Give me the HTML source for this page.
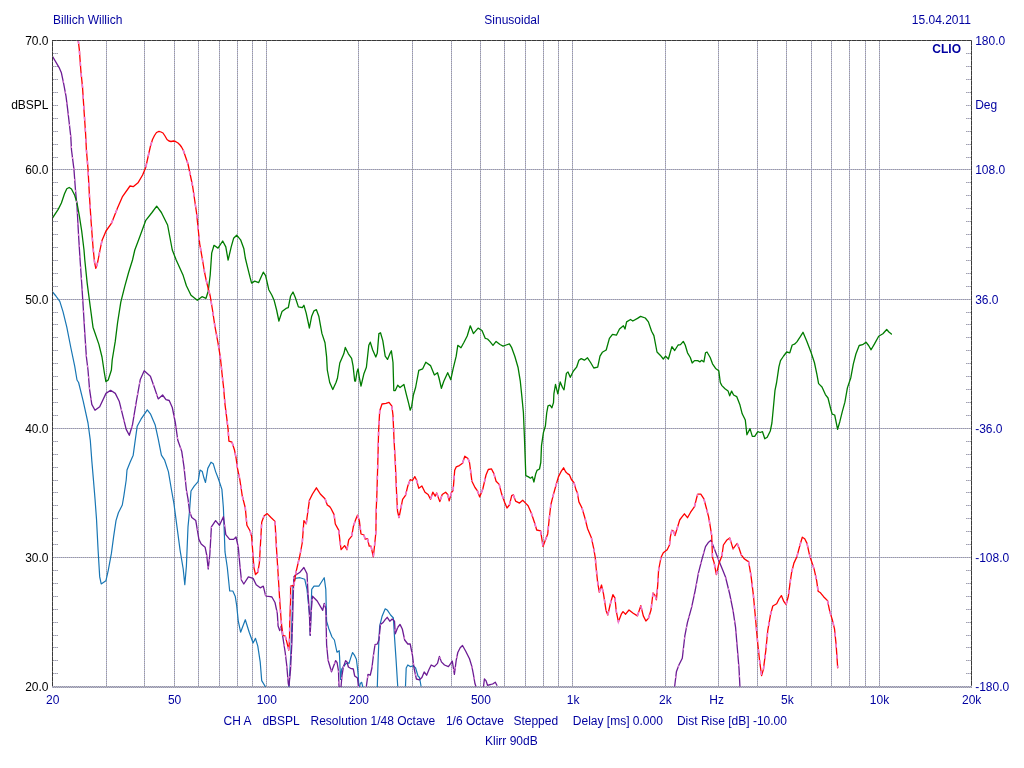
<!DOCTYPE html><html><head><meta charset="utf-8"><style>html,body{margin:0;padding:0;background:#fff;}svg{display:block}</style></head><body>
<svg width="1024" height="768" viewBox="0 0 1024 768">
<rect width="1024" height="768" fill="#fff"/>
<g shape-rendering="crispEdges" stroke-width="1" fill="none">
<path d="M106.5 41V686 M144.5 41V686 M174.5 41V686 M198.5 41V686 M219.5 41V686 M237.5 41V686 M252.5 41V686 M266.5 41V686 M358.5 41V686 M412.5 41V686 M451.5 41V686 M480.5 41V686 M504.5 41V686 M525.5 41V686 M543.5 41V686 M558.5 41V686 M572.5 41V686 M665.5 41V686 M718.5 41V686 M757.5 41V686 M786.5 41V686 M811.5 41V686 M831.5 41V686 M849.5 41V686 M865.5 41V686 M879.5 41V686 M53 169.5H971 M53 299.5H971 M53 428.5H971 M53 557.5H971" stroke="#b4b4d8"/>
<path d="M106.5 41V686 M144.5 41V686 M174.5 41V686 M198.5 41V686 M219.5 41V686 M237.5 41V686 M252.5 41V686 M266.5 41V686 M358.5 41V686 M412.5 41V686 M451.5 41V686 M480.5 41V686 M504.5 41V686 M525.5 41V686 M543.5 41V686 M558.5 41V686 M572.5 41V686 M665.5 41V686 M718.5 41V686 M757.5 41V686 M786.5 41V686 M811.5 41V686 M831.5 41V686 M849.5 41V686 M865.5 41V686 M879.5 41V686 M53 169.5H971 M53 299.5H971 M53 428.5H971 M53 557.5H971" stroke="#9c9c9c" stroke-dasharray="1 1"/>
<path d="M52 686.5H972M52 687.5H972" stroke="#b4b4d8"/><path d="M52 686.5H972" stroke="#9c9c9c" stroke-dasharray="1 1"/><path d="M53 687.5H972" stroke="#9c9c9c" stroke-dasharray="1 1"/>
<path d="M53 53.5H58 M966 53.5H971 M53 66.5H58 M966 66.5H971 M53 79.5H58 M966 79.5H971 M53 92.5H58 M966 92.5H971 M53 105.5H58 M966 105.5H971 M53 118.5H58 M966 118.5H971 M53 131.5H58 M966 131.5H971 M53 144.5H58 M966 144.5H971 M53 157.5H58 M966 157.5H971 M53 182.5H58 M966 182.5H971 M53 195.5H58 M966 195.5H971 M53 208.5H58 M966 208.5H971 M53 221.5H58 M966 221.5H971 M53 234.5H58 M966 234.5H971 M53 247.5H58 M966 247.5H971 M53 260.5H58 M966 260.5H971 M53 273.5H58 M966 273.5H971 M53 286.5H58 M966 286.5H971 M53 312.5H58 M966 312.5H971 M53 324.5H58 M966 324.5H971 M53 337.5H58 M966 337.5H971 M53 350.5H58 M966 350.5H971 M53 363.5H58 M966 363.5H971 M53 376.5H58 M966 376.5H971 M53 389.5H58 M966 389.5H971 M53 402.5H58 M966 402.5H971 M53 415.5H58 M966 415.5H971 M53 441.5H58 M966 441.5H971 M53 454.5H58 M966 454.5H971 M53 467.5H58 M966 467.5H971 M53 480.5H58 M966 480.5H971 M53 492.5H58 M966 492.5H971 M53 505.5H58 M966 505.5H971 M53 518.5H58 M966 518.5H971 M53 531.5H58 M966 531.5H971 M53 544.5H58 M966 544.5H971 M53 570.5H58 M966 570.5H971 M53 583.5H58 M966 583.5H971 M53 596.5H58 M966 596.5H971 M53 609.5H58 M966 609.5H971 M53 622.5H58 M966 622.5H971 M53 635.5H58 M966 635.5H971 M53 647.5H58 M966 647.5H971 M53 660.5H58 M966 660.5H971 M53 673.5H58 M966 673.5H971" stroke="#c0c0e0"/>
<path d="M53 53.5H58 M966 53.5H971 M53 66.5H58 M966 66.5H971 M53 79.5H58 M966 79.5H971 M53 92.5H58 M966 92.5H971 M53 105.5H58 M966 105.5H971 M53 118.5H58 M966 118.5H971 M53 131.5H58 M966 131.5H971 M53 144.5H58 M966 144.5H971 M53 157.5H58 M966 157.5H971 M53 182.5H58 M966 182.5H971 M53 195.5H58 M966 195.5H971 M53 208.5H58 M966 208.5H971 M53 221.5H58 M966 221.5H971 M53 234.5H58 M966 234.5H971 M53 247.5H58 M966 247.5H971 M53 260.5H58 M966 260.5H971 M53 273.5H58 M966 273.5H971 M53 286.5H58 M966 286.5H971 M53 312.5H58 M966 312.5H971 M53 324.5H58 M966 324.5H971 M53 337.5H58 M966 337.5H971 M53 350.5H58 M966 350.5H971 M53 363.5H58 M966 363.5H971 M53 376.5H58 M966 376.5H971 M53 389.5H58 M966 389.5H971 M53 402.5H58 M966 402.5H971 M53 415.5H58 M966 415.5H971 M53 441.5H58 M966 441.5H971 M53 454.5H58 M966 454.5H971 M53 467.5H58 M966 467.5H971 M53 480.5H58 M966 480.5H971 M53 492.5H58 M966 492.5H971 M53 505.5H58 M966 505.5H971 M53 518.5H58 M966 518.5H971 M53 531.5H58 M966 531.5H971 M53 544.5H58 M966 544.5H971 M53 570.5H58 M966 570.5H971 M53 583.5H58 M966 583.5H971 M53 596.5H58 M966 596.5H971 M53 609.5H58 M966 609.5H971 M53 622.5H58 M966 622.5H971 M53 635.5H58 M966 635.5H971 M53 647.5H58 M966 647.5H971 M53 660.5H58 M966 660.5H971 M53 673.5H58 M966 673.5H971" stroke="#a4a4a4" stroke-dasharray="1 1"/>
<path d="M52.5 686V40.5H971.5V686" stroke="#6a6a6a"/><path d="M52.5 686V40.5H971.5V686" stroke="#383838" stroke-dasharray="4 1"/>
</g>
<g clip-path="url(#c)">
<defs><clipPath id="c"><rect x="53" y="41" width="918" height="646"/></clipPath></defs>
<polyline points="52.0,291.2 55.9,296.0 59.8,301.4 63.0,311.6 66.8,327.2 70.8,347.5 74.7,366.2 77.0,380.0 78.6,382.5 83.2,401.2 88.0,423.0 90.3,440.3 91.8,460.6 93.4,479.4 95.0,498.8 96.5,519.0 98.1,550.3 99.7,576.9 101.2,583.9 105.9,580.8 108.2,570.6 111.4,553.4 113.7,536.2 116.0,520.6 118.4,512.8 122.3,505.0 123.9,495.6 126.2,480.0 127.0,470.0 130.1,462.2 133.2,455.2 134.8,443.4 137.2,426.2 141.0,419.2 147.3,409.8 150.4,413.8 155.1,424.7 158.2,438.8 161.4,455.2 164.5,459.8 168.4,471.6 171.5,490.0 173.9,503.4 177.0,526.9 180.1,550.3 183.2,569.0 184.8,584.7 186.4,566.0 188.0,526.9 189.5,511.2 191.0,491.0 194.2,486.2 198.1,481.6 200.0,470.0 202.3,471.6 203.9,477.8 205.5,482.5 207.8,468.4 211.0,462.2 213.3,463.8 215.6,471.6 218.0,477.8 218.8,480.0 221.9,489.4 223.4,508.0 225.0,551.9 227.3,567.5 229.7,591.0 232.8,591.0 235.2,596.2 236.7,605.6 238.3,621.2 240.6,632.2 245.3,619.7 249.2,632.2 253.1,643.0 255.5,638.4 257.8,646.2 260.2,661.9 261.7,680.6 265.6,687.0" fill="none" stroke="#1876b4" stroke-width="1.2" stroke-linejoin="round" stroke-linecap="round"/>
<polyline points="289.0,687.0 291.0,650.0 293.0,586.2 295.3,578.4 300.0,577.7 304.7,579.2 307.0,589.4 309.4,613.4 310.2,635.3 311.0,613.4 311.7,589.4 314.0,586.2 318.8,586.2 324.2,577.7 325.8,589.4 326.6,621.2 328.9,629.0 332.0,637.0 334.4,640.0 336.7,651.0 337.1,652.2 339.2,650.7 339.6,657.0 340.0,667.6 340.6,679.5 341.7,669.0 343.1,667.0 345.6,664.0 347.7,662.7 349.0,663.4 351.2,656.4 352.6,652.5 354.7,655.7 356.4,659.2 357.5,668.3 358.2,675.3 358.9,687.0" fill="none" stroke="#1876b4" stroke-width="1.2" stroke-linejoin="round" stroke-linecap="round"/>
<polyline points="359.5,687.0 360.3,683.5 361.7,682.3 362.8,687.0" fill="none" stroke="#1876b4" stroke-width="1.2" stroke-linejoin="round" stroke-linecap="round"/>
<polyline points="377.3,687.0 378.1,660.3 378.9,640.0 379.7,626.0 382.0,616.6 385.2,608.8 387.5,610.3 390.6,615.0 393.4,618.0 394.5,636.9 396.1,660.3 397.7,686.0" fill="none" stroke="#1876b4" stroke-width="1.2" stroke-linejoin="round" stroke-linecap="round"/>
<polyline points="405.5,686.0 406.2,668.0 407.8,665.0 410.2,666.6 413.3,665.8 415.6,668.0 418.0,676.0 419.5,677.5 421.0,686.0" fill="none" stroke="#1876b4" stroke-width="1.2" stroke-linejoin="round" stroke-linecap="round"/>
<polyline points="52.0,55.6 59.0,67.3 61.4,72.8 63.7,83.8 66.0,96.2 67.6,108.8 69.2,122.8 70.8,136.9 71.5,150.0 73.9,168.8 75.4,189.0 77.0,206.2 78.6,236.0 80.1,260.0 81.7,283.4 83.2,307.0 84.8,333.4 86.4,357.0 88.0,370.0 89.5,388.8 91.8,404.4 95.0,410.3 99.7,406.7 106.0,393.4 110.6,390.3 115.3,393.4 119.2,401.2 123.1,416.9 126.2,429.4 129.3,435.3 132.5,424.7 136.4,401.2 140.3,379.4 144.2,370.8 150.4,376.2 154.3,387.2 158.2,398.9 162.6,395.0 166.0,399.7 169.2,400.5 172.3,407.5 175.4,423.0 177.8,440.3 181.7,451.2 184.0,466.9 186.4,490.0 188.0,498.8 189.5,511.2 191.8,517.5 195.8,520.6 198.9,539.4 201.2,544.0 205.1,547.2 206.7,555.0 208.2,569.0 209.8,555.0 211.4,526.9 215.6,520.6 219.5,525.3 223.4,516.7 225.8,534.7 229.7,539.4 233.6,539.4 236.0,537.0 238.3,547.2 239.8,564.4 241.4,580.0 243.8,584.0 248.4,576.9 253.1,578.4 256.2,584.7 260.2,587.8 263.3,586.2 265.6,595.6 266.4,596.2 270.3,596.6 271.9,597.0 275.0,602.5 277.3,613.4 278.1,626.0 279.7,630.6 281.2,626.0 282.8,636.9 285.2,652.5 286.7,665.0 288.3,683.8 289.0,686.0 290.5,670.0 292.0,640.0 293.8,576.9 295.3,575.3 300.0,572.2 303.9,567.5 307.0,573.8 307.8,589.4 309.4,613.4 310.2,635.3 311.0,613.4 312.5,596.2 317.2,601.0 322.7,610.3 324.2,603.3 325.8,608.8 326.6,644.7 328.1,660.3 331.5,671.8 335.7,660.6 337.1,662.7 338.5,671.0 338.9,684.5 339.2,687.0" fill="none" stroke="#6c1c94" stroke-width="1.3" stroke-linejoin="round" stroke-linecap="round"/>
<polyline points="341.0,687.0 342.0,675.3 343.4,667.0 345.6,660.6 347.0,662.0 348.4,667.0 350.5,668.3 353.3,669.0 354.7,676.0 357.5,678.1 358.5,687.0" fill="none" stroke="#6c1c94" stroke-width="1.3" stroke-linejoin="round" stroke-linecap="round"/>
<polyline points="366.4,686.0 368.0,674.4 370.3,675.2 371.9,668.0 373.4,655.6 375.0,644.7 377.3,644.0 378.9,640.0 380.5,624.4 382.8,622.8 385.2,619.7 387.2,617.3 389.8,621.2 392.2,619.0 394.5,621.2 395.3,633.8 397.7,627.5 400.0,624.4 402.3,629.0 404.7,640.0 407.8,644.0 410.2,644.0 412.5,655.6 414.0,668.0 416.4,679.0 419.5,679.8 421.9,677.5 424.2,672.0 426.6,675.2 428.9,669.7 431.2,665.0 434.4,666.6 437.5,663.4 439.4,656.4 441.4,661.9 444.5,665.0 448.4,666.6 450.8,663.4 452.3,661.1 454.4,674.4 456.2,660.3 457.8,652.5 460.2,647.8 462.5,645.5 465.6,651.0 469.5,658.8 471.9,666.6 473.4,674.4 475.0,683.8 475.8,686.0" fill="none" stroke="#6c1c94" stroke-width="1.3" stroke-linejoin="round" stroke-linecap="round"/>
<polyline points="483.6,686.0 484.4,679.0 486.0,680.6 487.5,685.3 490.6,684.5 493.0,683.8 495.3,682.2 496.9,685.3" fill="none" stroke="#6c1c94" stroke-width="1.3" stroke-linejoin="round" stroke-linecap="round"/>
<polyline points="674.7,686.0 676.4,671.8 678.9,665.0 682.3,658.2 684.8,636.2 687.4,622.6 691.6,607.4 695.3,590.0 698.4,573.1 701.6,560.6 705.5,546.6 708.6,542.2 711.0,540.3 714.0,548.0 718.8,560.6 722.7,570.0 725.5,577.0 729.7,594.0 733.1,610.8 735.6,627.7 737.3,648.0 739.0,668.4 739.9,686.0" fill="none" stroke="#6c1c94" stroke-width="1.3" stroke-linejoin="round" stroke-linecap="round"/>
<polyline points="52.0,218.8 58.2,209.4 61.4,203.0 64.5,193.8 66.8,188.8 69.2,187.5 71.5,189.0 74.7,195.3 77.0,203.0 79.3,215.6 81.7,231.0 84.0,250.0 84.8,260.0 87.2,283.4 90.3,307.0 93.0,327.2 98.9,344.4 102.0,357.0 104.3,372.5 105.9,381.7 108.2,380.0 111.4,370.0 112.2,360.0 115.3,341.2 117.6,322.5 120.8,302.2 124.7,286.6 128.6,272.5 132.5,260.0 134.8,250.0 139.5,237.5 145.8,220.3 152.0,212.5 156.7,206.2 161.4,212.5 167.6,225.0 172.3,250.0 176.2,260.0 183.2,275.6 186.4,285.8 191.0,295.2 197.3,300.3 202.0,296.7 206.0,298.3 208.2,291.2 210.2,275.0 211.7,253.1 214.0,245.3 218.0,248.1 222.7,241.0 225.8,246.9 228.1,260.2 231.2,246.9 233.6,238.3 236.7,235.2 240.6,239.8 243.8,248.4 245.3,258.0 247.7,267.8 250.0,277.2 251.6,283.1 254.7,281.1 258.6,282.7 261.0,277.2 263.3,272.2 265.6,275.6 268.8,289.7 271.9,295.2 274.2,300.6 276.6,310.0 278.9,321.0 282.0,311.6 286.0,308.4 288.3,307.7 290.6,296.0 293.0,292.0 295.3,297.5 298.4,306.9 302.3,307.7 303.9,305.3 306.2,313.1 309.4,328.0 311.7,316.2 314.0,310.8 316.4,309.7 318.8,316.2 321.9,333.4 325.0,342.8 326.6,356.9 327.3,370.0 329.7,382.5 332.8,389.5 336.0,382.5 337.5,378.0 339.8,363.0 343.8,353.8 345.3,347.5 348.4,353.8 351.6,358.4 353.1,366.2 354.7,381.0 355.5,381.2 357.0,372.0 358.1,368.8 359.4,378.0 361.0,386.0 364.0,373.4 366.4,367.2 368.8,345.3 370.3,342.2 372.7,350.0 375.8,357.0 377.3,353.1 378.9,333.6 380.5,332.8 382.8,340.6 385.2,356.2 387.5,359.4 389.8,353.9 391.4,350.8 393.0,362.5 393.8,390.6 395.3,390.6 397.7,385.2 400.0,387.5 403.9,384.4 406.2,393.8 408.6,403.1 410.2,410.2 411.7,406.2 413.3,395.3 415.6,387.5 418.8,370.3 422.7,368.8 425.8,362.2 430.5,365.6 434.4,375.0 437.5,372.7 439.0,378.0 441.4,388.3 443.8,381.2 447.7,372.7 450.8,379.7 453.1,368.8 456.2,356.2 457.8,345.3 461.0,347.7 464.0,342.2 467.2,336.0 470.3,325.8 473.4,333.6 478.1,328.1 482.0,330.5 485.2,338.3 487.5,339.0 489.8,341.4 493.0,345.3 496.1,341.4 500.0,344.5 503.1,346.1 506.2,345.0 509.4,343.8 511.7,347.7 514.8,356.2 518.0,367.2 520.3,381.2 521.9,396.9 523.4,412.5 524.5,439.0 525.2,458.6 525.8,475.6 528.5,476.9 530.4,478.2 532.4,476.9 533.9,482.0 535.6,474.3 537.0,470.4 539.5,469.0 540.8,462.5 541.5,445.6 543.4,432.6 545.4,426.0 546.7,413.0 548.0,405.9 550.0,405.2 551.9,407.8 553.5,402.6 553.9,393.8 555.5,384.4 557.8,393.8 560.2,382.0 562.5,387.5 564.0,389.8 566.4,373.4 568.0,371.9 570.3,377.3 573.4,371.0 576.6,367.2 578.9,360.2 581.2,358.6 584.4,360.2 587.5,357.8 590.6,362.5 593.8,368.0 597.7,367.2 600.0,356.2 602.3,352.3 606.2,350.0 609.4,338.3 612.5,334.4 616.4,335.2 619.5,329.0 623.4,325.8 625.0,329.0 626.6,321.9 630.5,319.5 632.8,321.0 637.5,318.4 640.6,316.4 645.3,318.0 648.4,321.9 651.6,331.2 653.9,335.6 657.0,352.0 660.2,355.2 663.3,359.0 665.6,356.2 668.4,359.0 671.9,346.6 674.7,350.5 678.1,345.0 680.5,344.7 683.3,341.4 685.2,345.0 687.5,352.8 690.3,357.5 692.2,363.0 694.5,360.6 697.7,360.6 700.0,361.9 701.6,360.3 703.9,361.9 705.5,352.8 707.0,352.0 710.2,357.5 712.5,363.8 715.6,368.4 718.8,370.8 720.3,382.5 721.9,385.6 725.0,388.8 728.1,391.1 729.7,395.8 731.6,391.1 733.6,395.0 736.7,396.6 739.8,404.4 742.2,413.8 745.3,420.0 746.9,434.8 750.0,428.6 752.3,436.4 754.7,436.4 757.8,431.7 760.2,432.5 762.5,431.7 764.8,438.8 767.2,437.2 770.3,431.0 771.9,423.0 773.4,407.5 775.0,390.3 776.6,382.5 778.9,366.9 780.5,360.6 783.6,356.0 786.7,352.0 789.8,352.8 792.2,345.0 794.5,344.2 796.9,341.9 800.0,337.2 803.0,332.3 806.8,341.3 811.0,352.3 814.4,362.5 816.9,374.3 818.6,383.6 822.0,387.0 825.4,394.6 828.0,398.0 830.5,408.2 832.2,414.1 834.7,415.0 836.4,423.4 837.6,429.3 839.8,421.7 842.3,411.6 844.9,402.2 847.4,387.9 850.8,377.7 853.3,364.2 855.9,354.0 859.2,345.5 862.6,344.7 866.0,342.2 868.6,345.5 871.1,349.8 874.5,343.9 878.7,336.2 882.9,333.7 886.7,329.5 888.9,332.0 891.4,334.0" fill="none" stroke="#007c00" stroke-width="1.3" stroke-linejoin="round" stroke-linecap="round"/>
<polyline points="78.2,40.0 79.3,49.4 80.9,71.2 82.5,86.9 84.0,110.3 85.6,133.8 86.4,150.0 88.0,168.8 89.5,196.9 91.0,220.3 93.0,246.9 94.5,262.0 95.8,268.3 97.0,265.0 98.0,260.5 100.0,250.0 102.0,240.6 106.0,231.0 111.4,223.4 117.6,207.8 122.3,196.9 130.0,186.0 133.2,186.7 138.0,182.8 142.6,175.0 145.8,167.2 148.9,153.0 150.5,146.0 152.5,139.5 154.5,135.5 156.5,132.5 159.0,131.4 161.0,132.0 163.0,133.0 165.0,136.0 167.0,139.5 169.0,141.0 171.0,141.5 173.5,141.0 175.5,141.5 178.0,143.0 180.0,145.0 181.5,147.0 183.2,150.0 188.0,164.0 192.6,186.0 196.5,212.5 199.7,243.8 202.0,257.0 204.5,272.0 206.2,280.3 208.6,290.0 210.2,296.0 212.5,310.0 214.8,325.6 218.0,342.8 220.3,356.9 222.7,380.0 223.4,385.6 225.0,404.4 226.6,416.9 228.1,429.4 228.9,441.1 232.0,442.2 234.4,449.7 236.0,457.5 237.5,468.4 239.8,479.4 241.4,490.0 242.2,495.6 245.3,508.0 246.9,525.3 250.0,530.8 251.6,536.2 252.3,545.6 253.9,567.5 255.5,574.5 257.8,572.2 259.4,562.8 261.0,534.7 261.7,522.2 264.0,516.0 267.2,513.6 271.0,517.5 275.0,521.4 276.6,550.3 278.1,573.8 279.7,600.0 281.2,621.2 282.8,635.3 285.2,636.0 286.7,641.6 288.8,650.0 289.5,640.0 289.8,620.0 290.6,600.0 290.6,586.2 293.8,585.5 296.0,572.2 300.0,555.0 302.3,542.5 303.9,520.6 306.2,523.8 309.4,500.3 312.5,494.0 316.4,487.8 320.3,494.0 325.0,498.8 327.3,505.0 329.7,506.6 331.0,508.5 334.1,514.6 335.3,524.0 338.8,530.4 340.0,541.5 341.1,549.7 344.6,545.6 347.0,549.7 348.7,539.8 351.7,536.2 353.4,526.3 355.8,519.3 357.5,515.2 359.3,520.4 361.0,534.0 364.0,535.0 365.1,539.2 367.5,538.6 369.2,546.2 371.0,546.2 373.3,556.8 374.5,546.2 375.9,532.2 376.2,510.0 376.9,493.8 377.8,462.5 378.6,431.2 379.7,411.0 382.0,404.0 386.0,403.4 389.0,402.3 391.9,406.2 393.0,415.6 394.0,439.0 395.3,462.5 396.6,493.8 397.5,511.0 399.0,517.5 400.8,508.7 402.6,499.4 405.5,495.3 407.8,486.0 410.2,479.7 412.5,480.5 414.8,476.6 416.4,479.7 418.8,488.3 421.9,486.0 425.0,492.2 428.1,494.5 430.5,499.2 432.8,492.2 435.2,496.1 436.7,493.0 439.8,501.6 442.2,494.5 445.6,492.2 447.7,494.5 449.2,500.8 451.6,492.2 453.1,490.6 454.7,470.3 456.2,466.9 459.4,465.6 462.5,463.3 464.8,456.2 468.0,458.6 469.5,462.5 471.9,481.2 475.0,487.5 477.3,490.6 479.7,496.9 482.8,489.0 486.0,475.0 488.3,469.5 491.4,468.8 493.8,473.4 496.1,481.2 499.2,484.4 501.6,493.8 504.7,502.5 507.0,508.0 509.4,505.0 511.7,495.6 513.3,494.8 515.6,501.1 519.5,503.1 522.7,500.3 525.8,503.4 528.1,505.8 531.2,512.8 534.4,522.2 536.7,530.0 540.6,530.8 542.2,541.0 543.0,546.4 545.3,540.2 547.7,533.9 549.2,519.0 550.8,505.0 553.1,495.6 555.8,486.0 558.4,476.9 561.0,471.7 563.6,467.8 565.6,471.7 567.5,473.6 569.5,474.9 571.4,479.5 574.0,482.7 576.0,489.9 577.3,492.5 578.9,501.9 582.0,508.0 585.2,519.0 587.5,528.4 591.4,537.8 593.8,548.8 595.3,558.0 596.1,567.5 597.6,582.0 599.3,592.2 601.5,585.0 603.5,593.9 606.1,610.8 607.8,615.0 610.3,604.0 612.9,594.7 615.0,598.1 616.2,610.8 618.4,621.8 621.3,614.2 623.0,611.6 625.6,614.2 629.0,610.0 633.2,613.3 637.4,615.9 640.8,605.7 643.3,615.9 645.9,621.0 648.4,618.4 651.0,610.0 653.0,593.0 655.2,595.6 656.4,599.8 657.7,585.4 658.6,570.0 661.0,557.5 663.3,552.8 667.2,549.7 669.5,545.0 670.3,537.2 671.9,530.2 673.4,531.0 675.0,535.6 676.6,530.2 679.7,520.0 682.0,516.9 684.4,513.8 687.5,517.7 690.6,512.2 694.5,506.7 696.6,498.0 697.7,494.2 700.8,494.2 703.9,498.9 706.2,507.5 708.6,516.9 710.2,526.2 711.7,535.6 712.5,557.5 714.0,562.2 716.4,574.7 718.8,563.8 721.9,556.0 723.4,545.0 726.6,540.3 729.7,538.0 731.2,542.6 733.1,549.0 735.2,545.8 737.2,543.4 739.0,548.0 741.4,555.2 744.5,559.0 746.9,560.6 748.6,561.6 751.0,575.6 753.3,594.4 755.6,619.4 757.2,638.0 759.5,660.0 761.6,675.6 763.4,669.4 765.8,650.6 767.8,630.3 770.5,614.7 772.8,606.0 776.7,603.8 779.0,599.0 781.4,595.6 783.8,601.4 786.1,604.5 788.4,596.0 790.0,583.4 791.6,572.5 793.9,563.1 796.9,556.7 800.0,545.0 802.3,537.2 804.7,538.8 807.0,543.4 809.4,554.4 811.1,560.0 814.2,569.4 816.6,580.3 818.1,591.2 820.5,592.8 823.6,596.7 827.5,600.6 829.8,611.6 832.2,619.4 834.5,628.8 836.1,644.4 837.7,667.8" fill="none" stroke="#ff0000" stroke-width="1.3" stroke-linejoin="round" stroke-linecap="round"/>
<polyline points="78.2,40.0 79.3,49.4 80.9,71.2 82.5,86.9 84.0,110.3 85.6,133.8 86.4,150.0 88.0,168.8 89.5,196.9 91.0,220.3 93.0,246.9 94.5,262.0 95.8,268.3 97.0,265.0 98.0,260.5 100.0,250.0 102.0,240.6" fill="none" stroke="#ec7ad8" stroke-width="1.6" stroke-dasharray="4 7"/>
<polyline points="111.4,223.4 117.6,207.8" fill="none" stroke="#ec7ad8" stroke-width="1.6" stroke-dasharray="4 7"/>
<polyline points="145.8,167.2 148.9,153.0 150.5,146.0 152.5,139.5" fill="none" stroke="#ec7ad8" stroke-width="1.6" stroke-dasharray="4 7"/>
<polyline points="183.2,150.0 188.0,164.0 192.6,186.0 196.5,212.5 199.7,243.8 202.0,257.0 204.5,272.0 206.2,280.3 208.6,290.0 210.2,296.0 212.5,310.0 214.8,325.6 218.0,342.8 220.3,356.9 222.7,380.0 223.4,385.6 225.0,404.4 226.6,416.9 228.1,429.4 228.9,441.1" fill="none" stroke="#ec7ad8" stroke-width="1.6" stroke-dasharray="4 7"/>
<polyline points="232.0,442.2 234.4,449.7 236.0,457.5 237.5,468.4 239.8,479.4 241.4,490.0 242.2,495.6 245.3,508.0 246.9,525.3" fill="none" stroke="#ec7ad8" stroke-width="1.6" stroke-dasharray="4 7"/>
<polyline points="250.0,530.8 251.6,536.2 252.3,545.6 253.9,567.5 255.5,574.5" fill="none" stroke="#ec7ad8" stroke-width="1.6" stroke-dasharray="4 7"/>
<polyline points="257.8,572.2 259.4,562.8 261.0,534.7 261.7,522.2 264.0,516.0" fill="none" stroke="#ec7ad8" stroke-width="1.6" stroke-dasharray="4 7"/>
<polyline points="275.0,521.4 276.6,550.3 278.1,573.8 279.7,600.0 281.2,621.2 282.8,635.3" fill="none" stroke="#ec7ad8" stroke-width="1.6" stroke-dasharray="4 7"/>
<polyline points="285.2,636.0 286.7,641.6 288.8,650.0 289.5,640.0 289.8,620.0 290.6,600.0 290.6,586.2" fill="none" stroke="#ec7ad8" stroke-width="1.6" stroke-dasharray="4 7"/>
<polyline points="293.8,585.5 296.0,572.2 300.0,555.0 302.3,542.5 303.9,520.6" fill="none" stroke="#ec7ad8" stroke-width="1.6" stroke-dasharray="4 7"/>
<polyline points="306.2,523.8 309.4,500.3" fill="none" stroke="#ec7ad8" stroke-width="1.6" stroke-dasharray="4 7"/>
<polyline points="325.0,498.8 327.3,505.0" fill="none" stroke="#ec7ad8" stroke-width="1.6" stroke-dasharray="4 7"/>
<polyline points="334.1,514.6 335.3,524.0" fill="none" stroke="#ec7ad8" stroke-width="1.6" stroke-dasharray="4 7"/>
<polyline points="338.8,530.4 340.0,541.5 341.1,549.7" fill="none" stroke="#ec7ad8" stroke-width="1.6" stroke-dasharray="4 7"/>
<polyline points="347.0,549.7 348.7,539.8" fill="none" stroke="#ec7ad8" stroke-width="1.6" stroke-dasharray="4 7"/>
<polyline points="351.7,536.2 353.4,526.3 355.8,519.3" fill="none" stroke="#ec7ad8" stroke-width="1.6" stroke-dasharray="4 7"/>
<polyline points="357.5,515.2 359.3,520.4 361.0,534.0" fill="none" stroke="#ec7ad8" stroke-width="1.6" stroke-dasharray="4 7"/>
<polyline points="364.0,535.0 365.1,539.2" fill="none" stroke="#ec7ad8" stroke-width="1.6" stroke-dasharray="4 7"/>
<polyline points="367.5,538.6 369.2,546.2" fill="none" stroke="#ec7ad8" stroke-width="1.6" stroke-dasharray="4 7"/>
<polyline points="371.0,546.2 373.3,556.8 374.5,546.2 375.9,532.2 376.2,510.0 376.9,493.8 377.8,462.5 378.6,431.2 379.7,411.0 382.0,404.0" fill="none" stroke="#ec7ad8" stroke-width="1.6" stroke-dasharray="4 7"/>
<polyline points="391.9,406.2 393.0,415.6 394.0,439.0 395.3,462.5 396.6,493.8 397.5,511.0 399.0,517.5 400.8,508.7 402.6,499.4" fill="none" stroke="#ec7ad8" stroke-width="1.6" stroke-dasharray="4 7"/>
<polyline points="405.5,495.3 407.8,486.0 410.2,479.7" fill="none" stroke="#ec7ad8" stroke-width="1.6" stroke-dasharray="4 7"/>
<polyline points="416.4,479.7 418.8,488.3" fill="none" stroke="#ec7ad8" stroke-width="1.6" stroke-dasharray="4 7"/>
<polyline points="430.5,499.2 432.8,492.2" fill="none" stroke="#ec7ad8" stroke-width="1.6" stroke-dasharray="4 7"/>
<polyline points="436.7,493.0 439.8,501.6 442.2,494.5" fill="none" stroke="#ec7ad8" stroke-width="1.6" stroke-dasharray="4 7"/>
<polyline points="447.7,494.5 449.2,500.8 451.6,492.2" fill="none" stroke="#ec7ad8" stroke-width="1.6" stroke-dasharray="4 7"/>
<polyline points="453.1,490.6 454.7,470.3" fill="none" stroke="#ec7ad8" stroke-width="1.6" stroke-dasharray="4 7"/>
<polyline points="462.5,463.3 464.8,456.2" fill="none" stroke="#ec7ad8" stroke-width="1.6" stroke-dasharray="4 7"/>
<polyline points="468.0,458.6 469.5,462.5 471.9,481.2" fill="none" stroke="#ec7ad8" stroke-width="1.6" stroke-dasharray="4 7"/>
<polyline points="477.3,490.6 479.7,496.9 482.8,489.0 486.0,475.0" fill="none" stroke="#ec7ad8" stroke-width="1.6" stroke-dasharray="4 7"/>
<polyline points="493.8,473.4 496.1,481.2" fill="none" stroke="#ec7ad8" stroke-width="1.6" stroke-dasharray="4 7"/>
<polyline points="499.2,484.4 501.6,493.8 504.7,502.5" fill="none" stroke="#ec7ad8" stroke-width="1.6" stroke-dasharray="4 7"/>
<polyline points="509.4,505.0 511.7,495.6" fill="none" stroke="#ec7ad8" stroke-width="1.6" stroke-dasharray="4 7"/>
<polyline points="513.3,494.8 515.6,501.1" fill="none" stroke="#ec7ad8" stroke-width="1.6" stroke-dasharray="4 7"/>
<polyline points="531.2,512.8 534.4,522.2 536.7,530.0" fill="none" stroke="#ec7ad8" stroke-width="1.6" stroke-dasharray="4 7"/>
<polyline points="540.6,530.8 542.2,541.0 543.0,546.4 545.3,540.2 547.7,533.9 549.2,519.0 550.8,505.0 553.1,495.6 555.8,486.0 558.4,476.9" fill="none" stroke="#ec7ad8" stroke-width="1.6" stroke-dasharray="4 7"/>
<polyline points="574.0,482.7 576.0,489.9" fill="none" stroke="#ec7ad8" stroke-width="1.6" stroke-dasharray="4 7"/>
<polyline points="577.3,492.5 578.9,501.9" fill="none" stroke="#ec7ad8" stroke-width="1.6" stroke-dasharray="4 7"/>
<polyline points="582.0,508.0 585.2,519.0 587.5,528.4" fill="none" stroke="#ec7ad8" stroke-width="1.6" stroke-dasharray="4 7"/>
<polyline points="591.4,537.8 593.8,548.8 595.3,558.0 596.1,567.5 597.6,582.0 599.3,592.2 601.5,585.0 603.5,593.9 606.1,610.8" fill="none" stroke="#ec7ad8" stroke-width="1.6" stroke-dasharray="4 7"/>
<polyline points="607.8,615.0 610.3,604.0 612.9,594.7" fill="none" stroke="#ec7ad8" stroke-width="1.6" stroke-dasharray="4 7"/>
<polyline points="615.0,598.1 616.2,610.8 618.4,621.8 621.3,614.2" fill="none" stroke="#ec7ad8" stroke-width="1.6" stroke-dasharray="4 7"/>
<polyline points="637.4,615.9 640.8,605.7 643.3,615.9" fill="none" stroke="#ec7ad8" stroke-width="1.6" stroke-dasharray="4 7"/>
<polyline points="648.4,618.4 651.0,610.0 653.0,593.0" fill="none" stroke="#ec7ad8" stroke-width="1.6" stroke-dasharray="4 7"/>
<polyline points="655.2,595.6 656.4,599.8 657.7,585.4 658.6,570.0 661.0,557.5" fill="none" stroke="#ec7ad8" stroke-width="1.6" stroke-dasharray="4 7"/>
<polyline points="669.5,545.0 670.3,537.2 671.9,530.2" fill="none" stroke="#ec7ad8" stroke-width="1.6" stroke-dasharray="4 7"/>
<polyline points="673.4,531.0 675.0,535.6 676.6,530.2 679.7,520.0" fill="none" stroke="#ec7ad8" stroke-width="1.6" stroke-dasharray="4 7"/>
<polyline points="694.5,506.7 696.6,498.0 697.7,494.2" fill="none" stroke="#ec7ad8" stroke-width="1.6" stroke-dasharray="4 7"/>
<polyline points="703.9,498.9 706.2,507.5 708.6,516.9 710.2,526.2 711.7,535.6 712.5,557.5 714.0,562.2 716.4,574.7 718.8,563.8" fill="none" stroke="#ec7ad8" stroke-width="1.6" stroke-dasharray="4 7"/>
<polyline points="721.9,556.0 723.4,545.0" fill="none" stroke="#ec7ad8" stroke-width="1.6" stroke-dasharray="4 7"/>
<polyline points="729.7,538.0 731.2,542.6 733.1,549.0" fill="none" stroke="#ec7ad8" stroke-width="1.6" stroke-dasharray="4 7"/>
<polyline points="737.2,543.4 739.0,548.0 741.4,555.2" fill="none" stroke="#ec7ad8" stroke-width="1.6" stroke-dasharray="4 7"/>
<polyline points="748.6,561.6 751.0,575.6 753.3,594.4 755.6,619.4 757.2,638.0 759.5,660.0 761.6,675.6 763.4,669.4 765.8,650.6 767.8,630.3 770.5,614.7 772.8,606.0" fill="none" stroke="#ec7ad8" stroke-width="1.6" stroke-dasharray="4 7"/>
<polyline points="786.1,604.5 788.4,596.0 790.0,583.4 791.6,572.5 793.9,563.1" fill="none" stroke="#ec7ad8" stroke-width="1.6" stroke-dasharray="4 7"/>
<polyline points="796.9,556.7 800.0,545.0 802.3,537.2" fill="none" stroke="#ec7ad8" stroke-width="1.6" stroke-dasharray="4 7"/>
<polyline points="807.0,543.4 809.4,554.4 811.1,560.0 814.2,569.4 816.6,580.3 818.1,591.2" fill="none" stroke="#ec7ad8" stroke-width="1.6" stroke-dasharray="4 7"/>
<polyline points="827.5,600.6 829.8,611.6 832.2,619.4 834.5,628.8 836.1,644.4 837.7,667.8" fill="none" stroke="#ec7ad8" stroke-width="1.6" stroke-dasharray="4 7"/>
<polyline points="61.4,72.8 63.7,83.8 66.0,96.2 67.6,108.8 69.2,122.8 70.8,136.9 71.5,150.0 73.9,168.8 75.4,189.0 77.0,206.2 78.6,236.0 80.1,260.0 81.7,283.4 83.2,307.0 84.8,333.4 86.4,357.0 88.0,370.0 89.5,388.8 91.8,404.4" fill="none" stroke="#e080d8" stroke-width="1.2" stroke-dasharray="2 9" stroke-dashoffset="3"/>
<polyline points="119.2,401.2 123.1,416.9 126.2,429.4" fill="none" stroke="#e080d8" stroke-width="1.2" stroke-dasharray="2 9" stroke-dashoffset="3"/>
<polyline points="129.3,435.3 132.5,424.7 136.4,401.2 140.3,379.4" fill="none" stroke="#e080d8" stroke-width="1.2" stroke-dasharray="2 9" stroke-dashoffset="3"/>
<polyline points="150.4,376.2 154.3,387.2 158.2,398.9" fill="none" stroke="#e080d8" stroke-width="1.2" stroke-dasharray="2 9" stroke-dashoffset="3"/>
<polyline points="172.3,407.5 175.4,423.0 177.8,440.3 181.7,451.2 184.0,466.9 186.4,490.0 188.0,498.8 189.5,511.2 191.8,517.5" fill="none" stroke="#e080d8" stroke-width="1.2" stroke-dasharray="2 9" stroke-dashoffset="3"/>
<polyline points="195.8,520.6 198.9,539.4" fill="none" stroke="#e080d8" stroke-width="1.2" stroke-dasharray="2 9" stroke-dashoffset="3"/>
<polyline points="205.1,547.2 206.7,555.0 208.2,569.0 209.8,555.0 211.4,526.9" fill="none" stroke="#e080d8" stroke-width="1.2" stroke-dasharray="2 9" stroke-dashoffset="3"/>
<polyline points="223.4,516.7 225.8,534.7" fill="none" stroke="#e080d8" stroke-width="1.2" stroke-dasharray="2 9" stroke-dashoffset="3"/>
<polyline points="236.0,537.0 238.3,547.2 239.8,564.4 241.4,580.0" fill="none" stroke="#e080d8" stroke-width="1.2" stroke-dasharray="2 9" stroke-dashoffset="3"/>
<polyline points="263.3,586.2 265.6,595.6" fill="none" stroke="#e080d8" stroke-width="1.2" stroke-dasharray="2 9" stroke-dashoffset="3"/>
<polyline points="275.0,602.5 277.3,613.4 278.1,626.0 279.7,630.6 281.2,626.0 282.8,636.9 285.2,652.5 286.7,665.0 288.3,683.8" fill="none" stroke="#e080d8" stroke-width="1.2" stroke-dasharray="2 9" stroke-dashoffset="3"/>
<polyline points="289.0,686.0 290.5,670.0 292.0,640.0 293.8,576.9" fill="none" stroke="#e080d8" stroke-width="1.2" stroke-dasharray="2 9" stroke-dashoffset="3"/>
<polyline points="307.0,573.8 307.8,589.4 309.4,613.4 310.2,635.3 311.0,613.4 312.5,596.2" fill="none" stroke="#e080d8" stroke-width="1.2" stroke-dasharray="2 9" stroke-dashoffset="3"/>
<polyline points="322.7,610.3 324.2,603.3 325.8,608.8 326.6,644.7 328.1,660.3 331.5,671.8 335.7,660.6" fill="none" stroke="#e080d8" stroke-width="1.2" stroke-dasharray="2 9" stroke-dashoffset="3"/>
<polyline points="337.1,662.7 338.5,671.0 338.9,684.5" fill="none" stroke="#e080d8" stroke-width="1.2" stroke-dasharray="2 9" stroke-dashoffset="3"/>
<polyline points="341.0,687.0 342.0,675.3 343.4,667.0 345.6,660.6" fill="none" stroke="#e080d8" stroke-width="1.2" stroke-dasharray="2 9" stroke-dashoffset="3"/>
<polyline points="347.0,662.0 348.4,667.0" fill="none" stroke="#e080d8" stroke-width="1.2" stroke-dasharray="2 9" stroke-dashoffset="3"/>
<polyline points="353.3,669.0 354.7,676.0" fill="none" stroke="#e080d8" stroke-width="1.2" stroke-dasharray="2 9" stroke-dashoffset="3"/>
<polyline points="357.5,678.1 358.5,687.0" fill="none" stroke="#e080d8" stroke-width="1.2" stroke-dasharray="2 9" stroke-dashoffset="3"/>
<polyline points="366.4,686.0 368.0,674.4" fill="none" stroke="#e080d8" stroke-width="1.2" stroke-dasharray="2 9" stroke-dashoffset="3"/>
<polyline points="370.3,675.2 371.9,668.0 373.4,655.6 375.0,644.7" fill="none" stroke="#e080d8" stroke-width="1.2" stroke-dasharray="2 9" stroke-dashoffset="3"/>
<polyline points="377.3,644.0 378.9,640.0 380.5,624.4" fill="none" stroke="#e080d8" stroke-width="1.2" stroke-dasharray="2 9" stroke-dashoffset="3"/>
<polyline points="394.5,621.2 395.3,633.8 397.7,627.5" fill="none" stroke="#e080d8" stroke-width="1.2" stroke-dasharray="2 9" stroke-dashoffset="3"/>
<polyline points="402.3,629.0 404.7,640.0" fill="none" stroke="#e080d8" stroke-width="1.2" stroke-dasharray="2 9" stroke-dashoffset="3"/>
<polyline points="410.2,644.0 412.5,655.6 414.0,668.0 416.4,679.0" fill="none" stroke="#e080d8" stroke-width="1.2" stroke-dasharray="2 9" stroke-dashoffset="3"/>
<polyline points="437.5,663.4 439.4,656.4 441.4,661.9" fill="none" stroke="#e080d8" stroke-width="1.2" stroke-dasharray="2 9" stroke-dashoffset="3"/>
<polyline points="452.3,661.1 454.4,674.4 456.2,660.3 457.8,652.5" fill="none" stroke="#e080d8" stroke-width="1.2" stroke-dasharray="2 9" stroke-dashoffset="3"/>
<polyline points="469.5,658.8 471.9,666.6 473.4,674.4 475.0,683.8" fill="none" stroke="#e080d8" stroke-width="1.2" stroke-dasharray="2 9" stroke-dashoffset="3"/>
<polyline points="483.6,686.0 484.4,679.0" fill="none" stroke="#e080d8" stroke-width="1.2" stroke-dasharray="2 9" stroke-dashoffset="3"/>
<polyline points="486.0,680.6 487.5,685.3" fill="none" stroke="#e080d8" stroke-width="1.2" stroke-dasharray="2 9" stroke-dashoffset="3"/>
<polyline points="674.7,686.0 676.4,671.8 678.9,665.0" fill="none" stroke="#e080d8" stroke-width="1.2" stroke-dasharray="2 9" stroke-dashoffset="3"/>
<polyline points="682.3,658.2 684.8,636.2 687.4,622.6 691.6,607.4 695.3,590.0 698.4,573.1 701.6,560.6 705.5,546.6" fill="none" stroke="#e080d8" stroke-width="1.2" stroke-dasharray="2 9" stroke-dashoffset="3"/>
<polyline points="711.0,540.3 714.0,548.0 718.8,560.6" fill="none" stroke="#e080d8" stroke-width="1.2" stroke-dasharray="2 9" stroke-dashoffset="3"/>
<polyline points="722.7,570.0 725.5,577.0 729.7,594.0 733.1,610.8 735.6,627.7 737.3,648.0 739.0,668.4 739.9,686.0" fill="none" stroke="#e080d8" stroke-width="1.2" stroke-dasharray="2 9" stroke-dashoffset="3"/>
</g>
<g font-family="Liberation Sans, Arial, sans-serif" font-size="12">
<text x="53" y="24" fill="#0000a0">Billich Willich</text>
<text x="512" y="24" fill="#0000a0" text-anchor="middle">Sinusoidal</text>
<text x="971" y="24" fill="#0000a0" text-anchor="end">15.04.2011</text>
<text x="961" y="53" fill="#0000a0" text-anchor="end" font-weight="bold">CLIO</text>
<text x="48.5" y="44.8" fill="#000" text-anchor="end">70.0</text>
<text x="48.5" y="173.8" fill="#000" text-anchor="end">60.0</text>
<text x="48.5" y="303.8" fill="#000" text-anchor="end">50.0</text>
<text x="48.5" y="432.8" fill="#000" text-anchor="end">40.0</text>
<text x="48.5" y="561.8" fill="#000" text-anchor="end">30.0</text>
<text x="48.5" y="690.8" fill="#000" text-anchor="end">20.0</text>
<text x="48.5" y="109" fill="#000" text-anchor="end">dBSPL</text>
<text x="975.2" y="44.8" fill="#0000a0">180.0</text>
<text x="975.2" y="173.8" fill="#0000a0">108.0</text>
<text x="975.2" y="303.8" fill="#0000a0">36.0</text>
<text x="975.2" y="432.8" fill="#0000a0">-36.0</text>
<text x="975.2" y="561.8" fill="#0000a0">-108.0</text>
<text x="975.2" y="690.8" fill="#0000a0">-180.0</text>
<text x="975.2" y="109" fill="#0000a0">Deg</text>
<text x="52.7" y="704" fill="#0000a0" text-anchor="middle">20</text>
<text x="174.6" y="704" fill="#0000a0" text-anchor="middle">50</text>
<text x="266.8" y="704" fill="#0000a0" text-anchor="middle">100</text>
<text x="359.0" y="704" fill="#0000a0" text-anchor="middle">200</text>
<text x="480.9" y="704" fill="#0000a0" text-anchor="middle">500</text>
<text x="573.1" y="704" fill="#0000a0" text-anchor="middle">1k</text>
<text x="665.4" y="704" fill="#0000a0" text-anchor="middle">2k</text>
<text x="716.6" y="704" fill="#0000a0" text-anchor="middle">Hz</text>
<text x="787.3" y="704" fill="#0000a0" text-anchor="middle">5k</text>
<text x="879.5" y="704" fill="#0000a0" text-anchor="middle">10k</text>
<text x="971.7" y="704" fill="#0000a0" text-anchor="middle">20k</text>
<text x="223.6" y="725" fill="#0000a0">CH A</text>
<text x="262.4" y="725" fill="#0000a0">dBSPL</text>
<text x="310.5" y="725" fill="#0000a0">Resolution 1/48 Octave</text>
<text x="445.9" y="725" fill="#0000a0">1/6 Octave</text>
<text x="513.4" y="725" fill="#0000a0">Stepped</text>
<text x="572.8" y="725" fill="#0000a0">Delay [ms] 0.000</text>
<text x="676.9" y="725" fill="#0000a0">Dist Rise [dB] -10.00</text>
<text x="485" y="745" fill="#0000a0">Klirr 90dB</text>
</g>
</svg></body></html>
